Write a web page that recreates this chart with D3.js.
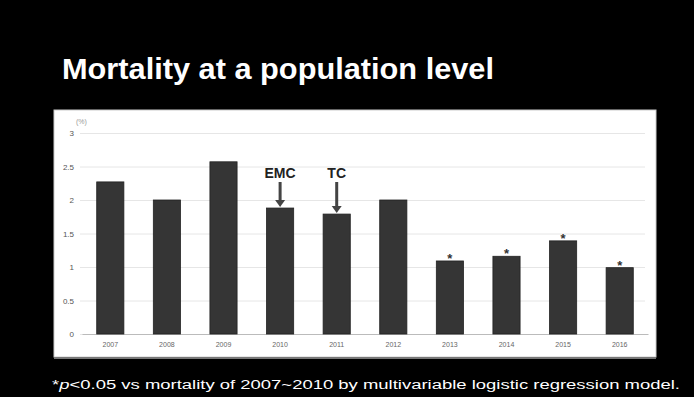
<!DOCTYPE html>
<html>
<head>
<meta charset="utf-8">
<script src="https://cdn.jsdelivr.net/npm/d3@7/dist/d3.min.js"></script>
<style>
  html, body { margin: 0; padding: 0; background: #000; }
  svg { display: block; }
</style>
</head>
<body>
<svg id="chart" width="694" height="397"></svg>
<script>
// Annual mortality (%) by year
const years = ["2007", "2008", "2009", "2010", "2011", "2012", "2013", "2014", "2015", "2016"];
const mortality = [2.27, 2.0, 2.57, 1.88, 1.79, 2.0, 1.09, 1.16, 1.39, 0.99];
const significant = [false, false, false, false, false, false, true, true, true, true];
const yTicks = [0, 0.5, 1, 1.5, 2, 2.5, 3];
const yTickLabels = ["0", "0.5", "1", "1.5", "2", "2.5", "3"];
const annotations = [{ year: "2010", text: "EMC" }, { year: "2011", text: "TC" }];

const svg = d3.select("#chart");

// Slide background
svg.append("rect").attr("width", 694).attr("height", 397).attr("fill", "#000");

// Title
svg.append("text")
  .attr("x", 62).attr("y", 79)
  .attr("fill", "#fff")
  .attr("font-family", "Liberation Sans, Arial, sans-serif")
  .attr("font-weight", "bold")
  .attr("font-size", 29)
  .attr("textLength", 432).attr("lengthAdjust", "spacingAndGlyphs")
  .text("Mortality at a population level");

// White chart panel
svg.append("rect")
  .attr("x", 54).attr("y", 110).attr("width", 602).attr("height", 247)
  .attr("fill", "#fff").attr("stroke", "#ccc").attr("stroke-width", 1);
svg.append("line")
  .attr("x1", 54).attr("x2", 656).attr("y1", 358).attr("y2", 358)
  .attr("stroke", "#777").attr("stroke-width", 2);

const x = d3.scaleBand().domain(years).range([82, 648]).paddingInner(0.52).paddingOuter(0.26);
const y = d3.scaleLinear().domain([0, 3]).range([334, 133]);

// Gridlines
svg.append("g").selectAll("line").data(yTicks).join("line")
  .attr("x1", 80).attr("x2", 645)
  .attr("y1", d => y(d) + 0.5).attr("y2", d => y(d) + 0.5)
  .attr("stroke", "#e6e6e6").attr("stroke-width", 1);

// Y axis
const yAxis = d3.axisLeft(y).tickValues(yTicks)
  .tickFormat((d, i) => yTickLabels[i]).tickSize(0).tickPadding(6);
const gy = svg.append("g").attr("transform", "translate(80,0)").call(yAxis);
gy.select(".domain").remove();
gy.selectAll("text")
  .attr("fill", "#555").attr("font-size", 8)
  .attr("font-family", "Liberation Sans, Arial, sans-serif");

svg.append("text")
  .attr("x", 76).attr("y", 124)
  .attr("fill", "#999").attr("font-size", 7)
  .attr("font-family", "Liberation Sans, Arial, sans-serif")
  .text("(%)");

// X axis
const xAxis = d3.axisBottom(x).tickSize(0).tickPadding(8);
const gx = svg.append("g").attr("transform", "translate(0,334)").call(xAxis);
gx.select(".domain").attr("stroke", "#bbb");
gx.selectAll("text")
  .attr("fill", "#666").attr("font-size", 7)
  .attr("font-family", "Liberation Sans, Arial, sans-serif");

// Bars
svg.append("g").selectAll("rect").data(years).join("rect")
  .attr("x", d => x(d))
  .attr("y", (d, i) => y(mortality[i]))
  .attr("width", x.bandwidth())
  .attr("height", (d, i) => y(0) - y(mortality[i]))
  .attr("fill", "#353535")
  .attr("stroke", "#222").attr("stroke-width", 0.8);

// Significance markers
svg.append("g").selectAll("text").data(years.filter((d, i) => significant[i])).join("text")
  .attr("x", d => x(d) + x.bandwidth() / 2)
  .attr("y", d => y(mortality[years.indexOf(d)]) + 2)
  .attr("text-anchor", "middle")
  .attr("fill", "#333").attr("font-size", 13).attr("font-weight", "bold")
  .attr("font-family", "Liberation Sans, Arial, sans-serif")
  .text("*");

// EMC / TC annotations with arrows
const ann = svg.append("g").selectAll("g").data(annotations).join("g");
ann.append("text")
  .attr("x", d => x(d.year) + x.bandwidth() / 2)
  .attr("y", 178)
  .attr("text-anchor", "middle")
  .attr("fill", "#222").attr("font-size", 14).attr("font-weight", "bold")
  .attr("font-family", "Liberation Sans, Arial, sans-serif")
  .text(d => d.text);
ann.append("line")
  .attr("x1", d => x(d.year) + x.bandwidth() / 2)
  .attr("x2", d => x(d.year) + x.bandwidth() / 2)
  .attr("y1", 182)
  .attr("y2", d => y(mortality[years.indexOf(d.year)]) - 7)
  .attr("stroke", "#444").attr("stroke-width", 3);
ann.append("path")
  .attr("d", d => {
    const cx = x(d.year) + x.bandwidth() / 2;
    const ty = y(mortality[years.indexOf(d.year)]) - 1;
    return `M${cx - 5},${ty - 7} L${cx + 5},${ty - 7} L${cx},${ty} Z`;
  })
  .attr("fill", "#444");

// Footnote
const foot = svg.append("text")
  .attr("x", 52).attr("y", 389)
  .attr("fill", "#fff").attr("font-size", 12)
  .attr("font-family", "Liberation Sans, Arial, sans-serif")
  .attr("textLength", 628).attr("lengthAdjust", "spacingAndGlyphs");
foot.append("tspan").text("*");
foot.append("tspan").attr("font-style", "italic").text("p");
foot.append("tspan").text("<0.05 vs mortality of 2007~2010 by multivariable logistic regression model.");
</script>
</body>
</html>
